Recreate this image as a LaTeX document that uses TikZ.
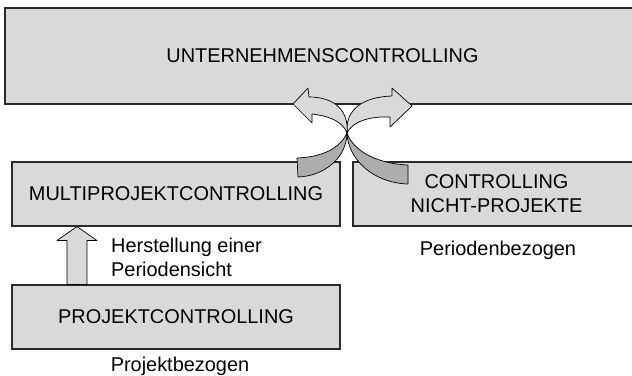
\documentclass[tikz,border=0pt]{standalone}
\usepackage{fontspec}
\setmainfont{Liberation Sans}
\definecolor{boxfill}{HTML}{D9D9D9}
\definecolor{tailfill}{HTML}{ADADAD}
\definecolor{edge}{HTML}{2A2A2A}
\begin{document}
\begin{tikzpicture}[x=1bp,y=-1bp,
  every node/.style={font=\fontsize{20}{24}\selectfont, text=black},
  boxnode/.style={draw=edge, fill=boxfill, line width=1.1bp, inner sep=0pt, align=center},
  lightarrow/.style={draw=black, fill=boxfill, line width=0.7bp, line join=round},
  darkarrow/.style={draw=black, fill=tailfill, line width=0.7bp, line join=round},
  plain/.style={inner sep=0pt, align=left}]
\useasboundingbox (0,0) rectangle (632,375);
\clip (0,0) rectangle (632,375);
% boxes
\node[boxnode, minimum width=635bp, minimum height=96bp] (top) at (322.5,56) {UNTERNEHMENSCONTROLLING};
\node[boxnode, minimum width=328bp, minimum height=64bp] (multi) at (176,194) {MULTIPROJEKTCONTROLLING};
\node[boxnode, minimum width=287bp, minimum height=64bp] (nicht) at (496.5,194) {CONTROLLING\\NICHT-PROJEKTE};
\node[boxnode, minimum width=328bp, minimum height=64bp] (proj) at (176,317) {PROJEKTCONTROLLING};
% labels
\node[plain] (lproj) at (180,366) {Projektbezogen};
\node[plain] (lper) at (498,250) {Periodenbezogen};
\node[plain, anchor=west] (lherst) at (111,257) {Herstellung einer\\Periodensicht};
% block arrow from PROJEKTCONTROLLING up to MULTIPROJEKTCONTROLLING
\coordinate (upbase) at (proj.north -| 77,0);
\coordinate (uptip) at (multi.south -| 77,0);
\draw[lightarrow] (upbase) ++(-10,0) -- ++(0,-44) -- ++(-10,0) -- (uptip) -- ++(20,14) -- ++(-10,0) -- ++(0,44) -- cycle;
% crossing curved arrows
\coordinate (C) at (347,133);
% dark tails
\draw[darkarrow] (297,158) .. controls (320,157) and (339,150) .. (C)
  .. controls (347,156) and (326,176) .. (298,177) -- cycle;
\draw[darkarrow] (408,165) .. controls (381,164) and (354,153) .. (C)
  .. controls (348,160) and (374,183) .. (408,184) -- cycle;
% light heads
\draw[lightarrow] (C) .. controls (345,110) and (362,97) .. (392,96)
  -- (392,88) -- (412,106) -- (390,127) -- (390,117)
  .. controls (369,116) and (352,122) .. (C);
\draw[lightarrow] (C) .. controls (349,110) and (334,97) .. (309,97)
  -- (308,88) -- (293,104) -- (312,123) -- (312,114)
  .. controls (330,116) and (343,122) .. (C);
\end{tikzpicture}
\end{document}
